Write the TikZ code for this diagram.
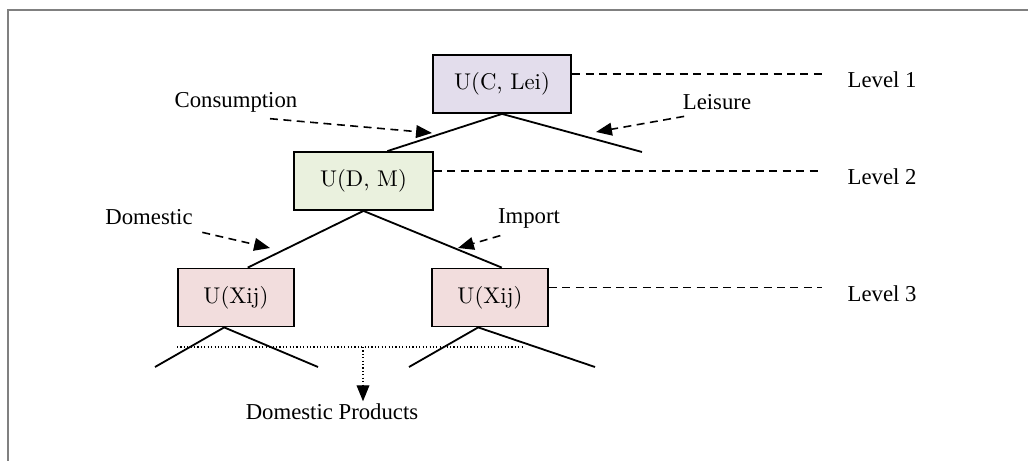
\documentclass[tikz,border=0pt]{standalone}
\usepackage{fontspec}
\newfontfamily\labelfont{Liberation Serif}
\usetikzlibrary{arrows.meta,calc}

\definecolor{lvone}{RGB}{227,221,236}
\definecolor{lvtwo}{RGB}{234,241,222}
\definecolor{lvthree}{RGB}{242,221,221}

\begin{document}
\begin{tikzpicture}[x=0.4396pt, y=-0.4396pt,
  every node/.style = {align=center, font=\labelfont, inner sep=1pt},
  ubox/.style = {shape=rectangle, draw, line width=0.8pt, font=\normalfont,
    minimum width=61pt, minimum height=25.5pt, inner sep=0pt},
  branch/.style = {line width=0.8pt},
  guide/.style = {line width=0.7pt, dash pattern=on 3.5pt off 2.4pt},
  cue/.style = {guide, -{Triangle[length=7pt,width=5.6pt]}},
  pick/.style = {line width=0.5pt, densely dotted}]
  \useasboundingbox (0,0) rectangle (1028,461);
  \draw[gray, line width=1pt] (8,461) -- (8,10) -- (1028,10);

  % utility boxes
  \node[ubox, fill=lvone] (ucl) at (502,84) {U(C, Lei)};
  \node[ubox, fill=lvtwo] (udm) at (363.5,181) {U(D, M)};
  \node[ubox, fill=lvthree, minimum width=51pt] (uxd) at (236,297.5) {U(Xij)};
  \node[ubox, fill=lvthree, minimum width=51pt] (uxm) at (490,297.5) {U(Xij)};

  % branch labels
  \node (cons) at (236,102) {Consumption};
  \node (leis) at (717,102) {Leisure};
  \node (dome) at (149,217) {Domestic};
  \node (impo) at (529,218) {Import};
  \node (prod) at (332,412) {Domestic Products};

  % levels
  \node[anchor=west] (lv1) at (845,80) {Level 1};
  \node[anchor=west] (lv2) at (845,177) {Level 2};
  \node[anchor=west] (lv3) at (845,294) {Level 3};

  % loose ends of the tree
  \coordinate (leisend) at (642,152);
  \coordinate (leafa) at (155,367);
  \coordinate (leafb) at (318,367);
  \coordinate (leafc) at (409,367);
  \coordinate (leafd) at (595,367);

  \draw[branch] (ucl.south) -- ($(udm.north west)!.67!(udm.north east)$);
  \draw[branch] (ucl.south) -- (leisend);
  \draw[branch] (udm.south) -- ($(uxd.north west)!.6!(uxd.north east)$);
  \draw[branch] (udm.south) -- ($(uxm.north west)!.6!(uxm.north east)$);
  \draw[branch] ($(uxd.south west)!.4!(uxd.south east)$) coordinate (uxdb)
    -- (leafa) (uxdb) -- (leafb);
  \draw[branch] ($(uxm.south west)!.4!(uxm.south east)$) coordinate (uxmb)
    -- (leafc) (uxmb) -- (leafd);

  % dashed pointers
  \draw[cue] ($(cons.south)+(34,4)$) -- (432,133);
  \draw[cue] ($(leis.south west)+(4,4)$) -- (596,132);
  \draw[cue] ($(dome.south east)+(7,5)$) -- (270,248);
  \draw[cue] ($(impo.south west)+(5,5)$) -- (458,248);

  \foreach \b/\l in {ucl/lv1, udm/lv2, uxm/lv3}
    \draw[guide, shorten >=10pt] ([yshift=4.4pt]\b.east)
      -- ([yshift=4.4pt]\b.east -| \l.west);

  % domestic products
  \draw[pick] (177,347) -- (523,347);
  \draw[pick, -{Triangle[length=7pt,width=5.6pt]}] (363,347) -- (prod.north -| 363,0);
\end{tikzpicture}
\end{document}
